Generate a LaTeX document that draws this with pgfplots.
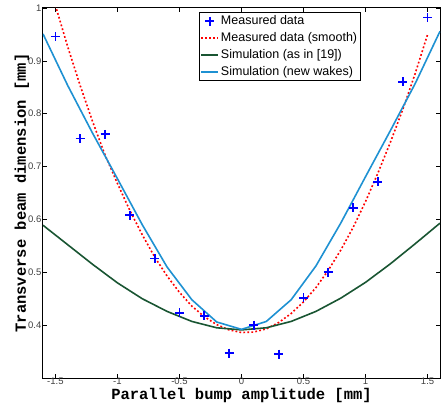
\documentclass[border=0pt]{standalone}
\usepackage{fontspec}
\setmainfont{Liberation Sans}
\newfontfamily\cour{Liberation Mono}
\usepackage{pgfplots}
\pgfplotsset{compat=1.18}
\definecolor{simgreen}{RGB}{25,85,50}
\definecolor{simblue}{RGB}{30,145,210}
\definecolor{markblue}{RGB}{0,0,255}

\begin{document}
\begin{tikzpicture}
\begin{axis}[
  scale only axis,
  width=397pt,
  height=370pt,
  xmin=-1.6, xmax=1.6,
  ymin=0.3, ymax=1,
  xtick={-1.5,-1,...,1.5},
  ytick={0.4,0.5,...,1.0},
  tick align=inside,
  major tick length=4pt,
  axis line style={line width=1pt},
  tick style={line width=0.6pt,black},
  /pgf/number format/assume math mode=true,
  tick label style={font=\fontsize{9.5}{11}\selectfont, text=black!75},
  xticklabel style={inner sep=1pt, yshift=1pt},
  yticklabel style={inner sep=1.5pt},
  xlabel={\cour\bfseries Parallel bump amplitude [mm]},
  ylabel={\cour\bfseries Transverse beam dimension [mm]},
  label style={font=\fontsize{15.5}{17}\selectfont},
  xlabel style={yshift=1.5pt},
  ylabel style={yshift=-6pt},
  legend cell align=left,
  legend style={at={(0.393,0.988)}, anchor=north west,
    font=\fontsize{12.5}{14}\selectfont, draw=black, line width=0.6pt,
    inner sep=1pt, row sep=2.5pt},
]
\addplot[only marks, draw=markblue, mark=+, mark size=4.5pt,
  mark options={draw=markblue, line width=1.8pt, solid}] coordinates {
  (-1.5,0.946) (-1.3,0.753) (-1.1,0.761) (-0.9,0.608) (-0.7,0.526)
  (-0.5,0.423) (-0.3,0.418) (-0.1,0.347) (0.1,0.400) (0.3,0.345)
  (0.5,0.452) (0.7,0.500) (0.9,0.622) (1.1,0.671) (1.3,0.860) (1.5,0.982)
};
\addlegendentry{Measured data}
\addplot[red, line width=1.6pt, dash pattern=on 1.8pt off 2.2pt] coordinates {
  (-1.5,1.005) (-1.4,0.926) (-1.3,0.853) (-1.2,0.785) (-1.1,0.722)
  (-1.0,0.668) (-0.9,0.617) (-0.8,0.571) (-0.7,0.529) (-0.6,0.493)
  (-0.5,0.462) (-0.4,0.436) (-0.3,0.416) (-0.2,0.401) (-0.1,0.391)
  (0,0.386) (0.1,0.387) (0.2,0.393) (0.3,0.405) (0.4,0.422)
  (0.5,0.444) (0.6,0.471) (0.7,0.504) (0.8,0.542) (0.9,0.585)
  (1.0,0.634) (1.1,0.688) (1.2,0.746) (1.3,0.808) (1.4,0.876) (1.5,0.950)
};
\addlegendentry{Measured data (smooth)}
\addplot[simgreen, line width=1.6pt] coordinates {
  (-1.6,0.589) (-1.4,0.552) (-1.2,0.515) (-1.0,0.480) (-0.8,0.450)
  (-0.6,0.426) (-0.4,0.407) (-0.2,0.395) (0,0.391) (0.2,0.395)
  (0.4,0.407) (0.6,0.426) (0.8,0.451) (1.0,0.481) (1.2,0.516)
  (1.4,0.554) (1.6,0.593)
};
\addlegendentry{Simulation (as in [19])}
\addplot[simblue, line width=1.6pt] coordinates {
  (-1.6,0.951) (-1.4,0.853) (-1.2,0.763) (-1.0,0.677) (-0.8,0.590)
  (-0.6,0.510) (-0.4,0.448) (-0.2,0.406) (0,0.392) (0.2,0.407)
  (0.4,0.448) (0.6,0.512) (0.8,0.593) (1.0,0.681) (1.2,0.768)
  (1.4,0.857) (1.6,0.956)
};
\addlegendentry{Simulation (new wakes)}
\end{axis}
\pgfresetboundingbox
\path ([xshift=-43pt,yshift=-31pt]current axis.south west)
  rectangle ([xshift=1pt,yshift=8pt]current axis.north east);
\end{tikzpicture}
\end{document}
